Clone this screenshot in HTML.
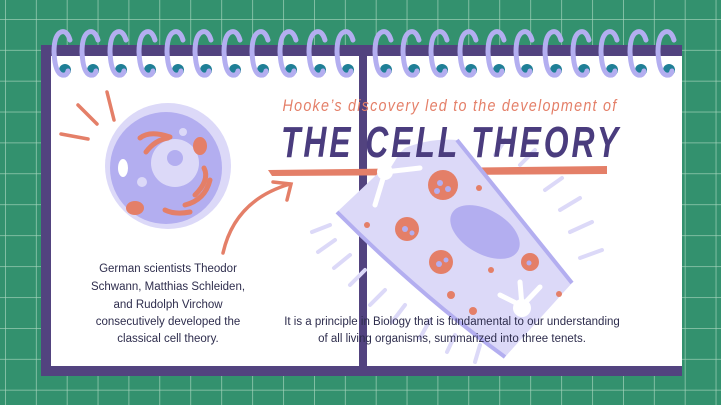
<!DOCTYPE html>
<html><head><meta charset="utf-8"><style>
html,body{margin:0;padding:0;width:721px;height:405px;overflow:hidden;background:#33916e}
svg{display:block}
</style></head><body>
<svg width="721" height="405" viewBox="0 0 721 405" xmlns="http://www.w3.org/2000/svg">
<defs>
<pattern id="g" x="5" y="19" width="30.9" height="30.9" patternUnits="userSpaceOnUse">
<path d="M0 0V30.9M0 0H30.9" stroke="#a9d6bf" stroke-width="1.3" fill="none"/>
</pattern>
</defs>
<rect width="721" height="405" fill="#33916e"/>
<rect width="721" height="405" fill="url(#g)"/>
<!-- notebook -->
<rect x="41" y="45" width="641" height="331" fill="#52437f"/>
<rect x="51" y="56" width="631" height="310" fill="#fff"/>
<rect x="359" y="45" width="8" height="322" fill="#52437f"/>
<!-- rings -->
<g fill="#1f7f96">
<circle cx="65" cy="70" r="6"/><circle cx="93" cy="70" r="6"/><circle cx="121" cy="70" r="6"/><circle cx="150" cy="70" r="6"/><circle cx="178" cy="70" r="6"/><circle cx="206" cy="70" r="6"/><circle cx="235" cy="70" r="6"/><circle cx="263" cy="70" r="6"/><circle cx="291" cy="70" r="6"/><circle cx="320" cy="70" r="6"/><circle cx="348" cy="70" r="6"/><circle cx="386" cy="70" r="6"/><circle cx="414" cy="70" r="6"/><circle cx="442" cy="70" r="6"/><circle cx="471" cy="70" r="6"/><circle cx="499" cy="70" r="6"/><circle cx="527" cy="70" r="6"/><circle cx="556" cy="70" r="6"/><circle cx="584" cy="70" r="6"/><circle cx="612" cy="70" r="6"/><circle cx="641" cy="70" r="6"/><circle cx="669" cy="70" r="6"/>
</g>
<g fill="none" stroke="#b3aef0" stroke-width="5" stroke-linecap="round">
<path id="r" d="M70 40 Q67 30 61 32 Q54 35 54 52 Q55 73 62 75 Q67 76 68 71"/>
<use href="#r" x="28"/><use href="#r" x="56"/><use href="#r" x="85"/><use href="#r" x="113"/><use href="#r" x="141"/><use href="#r" x="170"/><use href="#r" x="198"/><use href="#r" x="226"/><use href="#r" x="255"/><use href="#r" x="283"/><use href="#r" x="321"/><use href="#r" x="349"/><use href="#r" x="377"/><use href="#r" x="406"/><use href="#r" x="434"/><use href="#r" x="462"/><use href="#r" x="491"/><use href="#r" x="519"/><use href="#r" x="547"/><use href="#r" x="576"/><use href="#r" x="604"/>
</g>
<!-- left cell -->
<g stroke="#e47f68" stroke-width="3.5" stroke-linecap="round" fill="none">
<path d="M61 134 L88 139"/><path d="M78 105 L97 124"/><path d="M107 92 L114 120"/>
</g>
<circle cx="168" cy="166" r="63" fill="#dcd9f8"/>
<circle cx="166" cy="168" r="56" fill="#b3aef0"/>
<circle cx="175" cy="163" r="24" fill="#dcd9f8"/>
<circle cx="175" cy="158" r="8" fill="#b3aef0"/>
<ellipse cx="123" cy="168" rx="5" ry="9" fill="#fff"/>
<g fill="none" stroke="#e47f68" stroke-width="5" stroke-linecap="round">
<path d="M140 138 Q150 130 170 137"/><path d="M146 152 Q155 140 168 138"/>
<path d="M204 168 Q210 180 195 195"/><path d="M210 180 Q205 200 185 205"/>
<path d="M165 210 Q175 215 190 212"/>
</g>
<ellipse cx="200" cy="146" rx="7" ry="9" fill="#e47f68"/>
<ellipse cx="135" cy="208" rx="9" ry="7" fill="#e47f68"/>
<circle cx="142" cy="182" r="5" fill="#dcd9f8"/>
<circle cx="183" cy="132" r="4" fill="#dcd9f8"/>
<!-- arrow -->
<g fill="none" stroke="#e47f68" stroke-width="3.5" stroke-linecap="round">
<path d="M223 253 Q235 200 290 184"/><path d="M273 182 L291 184 L287 200"/>
</g>
<!-- brush stroke -->
<path d="M268 170 L607 166 L607 174 L272 176 Z" fill="#e47f68"/>
<!-- paramecium -->
<g stroke="#dcd9f8" stroke-width="4" stroke-linecap="round">
<path d="M330 225 L312 232"/><path d="M335 240 L318 252"/><path d="M350 255 L334 268"/><path d="M365 270 L350 285"/><path d="M385 290 L370 305"/><path d="M405 305 L392 322"/><path d="M430 320 L420 338"/><path d="M455 335 L447 352"/><path d="M480 345 L475 362"/>
<path d="M545 190 L562 178"/><path d="M560 210 L580 198"/><path d="M570 232 L592 222"/><path d="M580 258 L602 250"/><path d="M520 165 L535 150"/><path d="M495 155 L505 140"/>
</g>
<path d="M337 212 L405 148 Q430 138 457 140 L572 283 L505 357 Q420 295 337 212 Z" fill="#dcd9f8"/>
<path d="M337 212 Q420 295 505 357" fill="none" stroke="#b3aef0" stroke-width="4"/>
<path d="M457 140 L572 283" fill="none" stroke="#b3aef0" stroke-width="4"/>
<ellipse cx="485" cy="232" rx="38" ry="22" transform="rotate(30 485 232)" fill="#b3aef0"/>
<g fill="#e47f68">
<circle cx="443" cy="185" r="15"/><circle cx="407" cy="229" r="12"/><circle cx="441" cy="262" r="12"/><circle cx="530" cy="262" r="9"/>
<circle cx="367" cy="225" r="3"/><circle cx="479" cy="188" r="3"/><circle cx="491" cy="270" r="3"/><circle cx="451" cy="295" r="4"/><circle cx="473" cy="311" r="4"/><circle cx="559" cy="294" r="3"/>
</g>
<g fill="#b3aef0"><circle cx="440" cy="183" r="3"/><circle cx="448" cy="189" r="3"/><circle cx="437" cy="191" r="3"/><circle cx="405" cy="229" r="3"/><circle cx="412" cy="233" r="2.5"/><circle cx="439" cy="264" r="3"/><circle cx="446" cy="260" r="2.5"/><circle cx="529" cy="263" r="2.5"/></g>
<g stroke="#fff" stroke-width="5" stroke-linecap="round"><path d="M385 172 L420 168"/><path d="M385 172 L375 205"/><path d="M385 172 L400 148"/><path d="M522 306 L520 282"/><path d="M522 306 L540 287"/><path d="M522 306 L500 295"/></g>
<circle cx="385" cy="172" r="8" fill="#fff"/><circle cx="522" cy="308" r="9" fill="#fff"/>
<!-- titles -->
<text x="450" y="111" text-anchor="middle" font-family="Liberation Sans, sans-serif" font-style="italic" font-size="17" fill="#e47f68" letter-spacing="1.5" textLength="335" lengthAdjust="spacingAndGlyphs">Hooke’s discovery led to the development of</text>
<text x="451" y="157" text-anchor="middle" font-family="Liberation Sans, sans-serif" font-style="italic" font-weight="bold" font-size="44" fill="#4a3c7e" letter-spacing="4" textLength="340" lengthAdjust="spacingAndGlyphs">THE CELL THEORY</text>
<!-- body texts -->
<g font-family="Liberation Sans, sans-serif" font-size="11.5" fill="#2e2d4d" text-anchor="middle">
<text x="168" y="272">German scientists Theodor</text>
<text x="168" y="290">Schwann, Matthias Schleiden,</text>
<text x="168" y="308">and Rudolph Virchow</text>
<text x="168" y="325">consecutively developed the</text>
<text x="168" y="342">classical cell theory.</text>
<text x="452" y="325">It is a principle in Biology that is fundamental to our understanding</text>
<text x="452" y="342">of all living organisms, summarized into three tenets.</text>
</g>
</svg>
</body></html>
